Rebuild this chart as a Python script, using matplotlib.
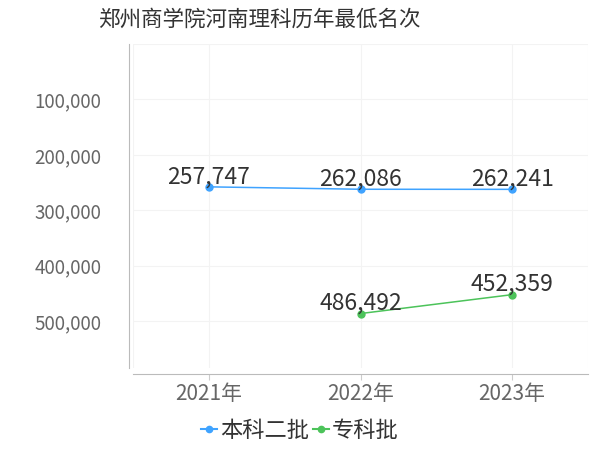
import matplotlib
matplotlib.use("Agg")
import matplotlib.pyplot as plt
from matplotlib.lines import Line2D

plt.rcParams["font.family"] = ["Noto Sans CJK SC", "DejaVu Sans"]

years = ["2021年", "2022年", "2023年"]
benke_x = [0, 1, 2]
benke_rank = [257747, 262086, 262241]
zhuanke_x = [1, 2]
zhuanke_rank = [486492, 452359]
y_ticks = [100000, 200000, 300000, 400000, 500000]

blue = "#3fa3ff"
green = "#4cc35a"

fig = plt.figure(figsize=(6, 4.5), dpi=100)
ax = fig.add_axes([0.222, 0.182, 0.758, 0.72])

ax.plot(benke_x, benke_rank, color=blue, lw=1.1, marker="o", ms=5, zorder=3)
ax.plot(zhuanke_x, zhuanke_rank, color=green, lw=1.1, marker="o", ms=5, zorder=3)

# labels sit right on top of each point
for x, v in zip(benke_x, benke_rank):
    ax.annotate(f"{v:,}", (x, v), xytext=(0, -1), textcoords="offset points",
                ha="center", va="bottom", fontsize=16.5, color="#333333")
for x, v in zip(zhuanke_x, zhuanke_rank):
    ax.annotate(f"{v:,}", (x, v), xytext=(0, -1), textcoords="offset points",
                ha="center", va="bottom", fontsize=16.5, color="#333333")

ax.set_xlim(-0.5, 2.5)
ax.set_ylim(585000, 0)
ax.set_xticks(benke_x)
ax.set_xticklabels(years)
ax.set_yticks(y_ticks)
ax.set_yticklabels([f"{t:,}" for t in y_ticks])
ax.tick_params(axis="x", labelsize=15, labelcolor="#666666", length=4, color="#cccccc", pad=3)
ax.tick_params(axis="y", labelsize=13.5, labelcolor="#666666", length=0, pad=20)

for y in [0] + y_ticks:
    ax.axhline(y, color="#f3f3f3", lw=0.8, zorder=0)
for x in [-0.5, 0, 1, 2, 2.5]:
    ax.axvline(x, color="#f3f3f3", lw=0.8, zorder=0)

for side in ["top", "right"]:
    ax.spines[side].set_visible(False)
ax.spines["left"].set_color("#bbbbbb")
ax.spines["bottom"].set_color("#bbbbbb")
ax.spines["left"].set_position(("outward", 3))
ax.spines["bottom"].set_position(("outward", 4))

fig.text(0.433, 0.957, "郑州商学院河南理科历年最低名次", ha="center", va="center",
         fontsize=15.5, color="#333333")

handles = [
    Line2D([], [], color=blue, marker="o", ms=4.5, lw=1.5),
    Line2D([], [], color=green, marker="o", ms=4.5, lw=1.5),
]
fig.legend(handles, ["本科二批", "专科批"], loc="center", bbox_to_anchor=(0.5, 0.043),
           ncol=2, frameon=False, fontsize=16, handlelength=0.7, handletextpad=0.15,
           columnspacing=0.2, labelcolor="#333333")

fig.savefig("out.png", dpi=100)
